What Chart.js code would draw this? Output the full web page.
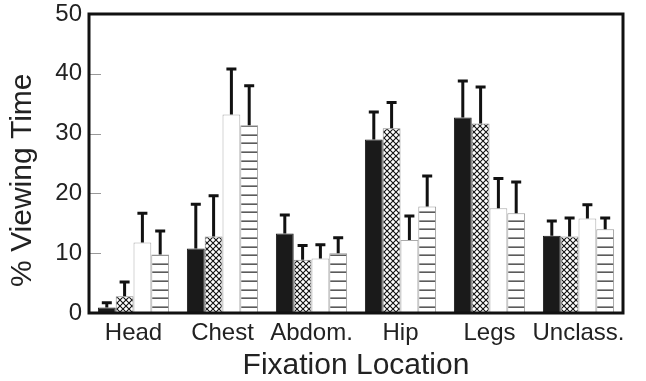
<!DOCTYPE html>
<html>
<head>
<meta charset="utf-8">
<script src="https://cdn.jsdelivr.net/npm/chart.js@4.4.0/dist/chart.umd.min.js"></script>
<style>
  html, body { margin: 0; padding: 0; background: #fff; }
  #wrap { width: 646px; height: 381px; }
</style>
</head>
<body>
<div id="wrap"><canvas id="chart" width="646" height="381"></canvas></div>
<script>
// Datos
const categories = ['Head', 'Chest', 'Abdom.', 'Hip', 'Legs', 'Unclass.'];
const solidValues  = [0.9, 10.8, 13.3, 29.0, 32.7, 12.9];
const crossValues  = [2.8, 12.8, 8.9, 30.9, 31.7, 12.8];
const openValues   = [11.8, 33.2, 9.1, 12.2, 17.5, 15.8];
const linedValues  = [9.8, 31.4, 10.0, 17.8, 16.7, 14.0];
// Barras de error (solo hacia arriba)
const solidErr = [0.8, 7.4, 3.1, 4.6, 6.1, 2.5];
const crossErr = [2.4, 6.8, 2.4, 4.3, 6.1, 3.1];
const openErr  = [4.9, 7.6, 2.3, 4.0, 5.0, 2.3];
const linedErr = [3.9, 6.6, 2.6, 5.1, 5.2, 1.9];
const yTicks = [0, 10, 20, 30, 40, 50];

const FONT = "'Liberation Sans', Arial, Helvetica, sans-serif";

// Patrones de relleno
function crossPattern() {
    const c = document.createElement('canvas');
    c.width = 6; c.height = 6;
    const g = c.getContext('2d');
    g.fillStyle = '#fff';
    g.fillRect(0, 0, 6, 6);
    g.strokeStyle = '#111';
    g.lineWidth = 1.1;
    g.beginPath();
    g.moveTo(-1, -1); g.lineTo(7, 7);
    g.moveTo(7, -1); g.lineTo(-1, 7);
    g.stroke();
    return document.getElementById('chart').getContext('2d').createPattern(c, 'repeat');
}

function linePattern() {
    const c = document.createElement('canvas');
    c.width = 8; c.height = 43;
    const g = c.getContext('2d');
    g.fillStyle = '#fff';
    g.fillRect(0, 0, 8, 43);
    g.fillStyle = '#333';
    [5.7, 14.3, 22.9, 31.5, 40.1].forEach(y => g.fillRect(0, Math.round(y) - 0.5, 8, 1.3));
    return document.getElementById('chart').getContext('2d').createPattern(c, 'repeat');
}

// Plugin para barras de error, marcas del eje y marco
const extras = {
    id: 'extras',
    afterDatasetsDraw(chart) {
        const ctx = chart.ctx;
        const y = chart.scales.y;
        const area = chart.chartArea;
        ctx.save();
        // barras de error
        chart.data.datasets.forEach((ds, di) => {
            const meta = chart.getDatasetMeta(di);
            meta.data.forEach((bar, i) => {
                const top = y.getPixelForValue(ds.data[i] + ds.errors[i]);
                ctx.strokeStyle = '#111';
                ctx.lineWidth = 3;
                ctx.beginPath();
                ctx.moveTo(bar.x, bar.y);
                ctx.lineTo(bar.x, top);
                ctx.moveTo(bar.x - 5, top);
                ctx.lineTo(bar.x + 5, top);
                ctx.stroke();
            });
        });
        // marcas internas del eje y
        ctx.strokeStyle = '#999';
        ctx.lineWidth = 1;
        yTicks.slice(1, -1).forEach(v => {
            const py = Math.round(y.getPixelForValue(v)) + 0.5;
            ctx.beginPath();
            ctx.moveTo(area.left, py);
            ctx.lineTo(area.left + 12, py);
            ctx.stroke();
        });
        // marco
        ctx.strokeStyle = '#111';
        ctx.lineWidth = 3;
        ctx.strokeRect(area.left, area.top, area.right - area.left, area.bottom - area.top);
        ctx.restore();
    }
};

const chart = new Chart(document.getElementById('chart'), {
    type: 'bar',
    data: {
        labels: categories,
        datasets: [{
            label: 'Solid',
            data: solidValues,
            errors: solidErr,
            backgroundColor: '#1a1a1a',
            borderColor: '#1a1a1a',
            borderWidth: 1
        }, {
            label: 'Crosshatch',
            data: crossValues,
            errors: crossErr,
            backgroundColor: crossPattern(),
            borderColor: '#888',
            borderWidth: 1
        }, {
            label: 'Open',
            data: openValues,
            errors: openErr,
            backgroundColor: '#fff',
            borderColor: '#aaa',
            borderWidth: 1
        }, {
            label: 'Lined',
            data: linedValues,
            errors: linedErr,
            backgroundColor: linePattern(),
            borderColor: '#999',
            borderWidth: 1
        }]
    },
    options: {
        responsive: false,
        animation: false,
        layout: { padding: { top: 14, right: 23, left: 0, bottom: 0 } },
        datasets: {
            bar: { categoryPercentage: 0.8, barPercentage: 1.0 }
        },
        plugins: {
            legend: { display: false },
            tooltip: { enabled: false }
        },
        scales: {
            x: {
                grid: { display: false, drawTicks: false },
                border: { display: false },
                ticks: {
                    color: '#222',
                    padding: 6,
                    maxRotation: 0,
                    autoSkip: false,
                    font: { family: FONT, size: 24 }
                },
                title: {
                    display: true,
                    text: 'Fixation Location',
                    color: '#222',
                    padding: { top: 0, bottom: 0 },
                    font: { family: FONT, size: 30, lineHeight: 1.0 }
                },
                afterFit(scale) {
                    scale.height = 68;
                    scale.paddingLeft = 0;
                    scale.paddingRight = 0;
                }
            },
            y: {
                min: 0,
                max: 50,
                afterBuildTicks(scale) { scale.ticks = yTicks.map(v => ({ value: v })); },
                grid: { display: false, drawTicks: false },
                border: { display: false },
                ticks: {
                    color: '#222',
                    padding: 7,
                    font: { family: FONT, size: 24, lineHeight: 1.0 }
                },
                title: {
                    display: true,
                    // espacios al final para bajar el texto como en el original
                    text: '% Viewing Time    ',
                    color: '#222',
                    padding: { top: 5, bottom: 0 },
                    font: { family: FONT, size: 30 }
                },
                afterFit(scale) {
                    scale.width = 89;
                    scale.paddingTop = 0;
                    scale.paddingBottom = 0;
                }
            }
        }
    },
    plugins: [extras]
});
</script>
</body>
</html>
